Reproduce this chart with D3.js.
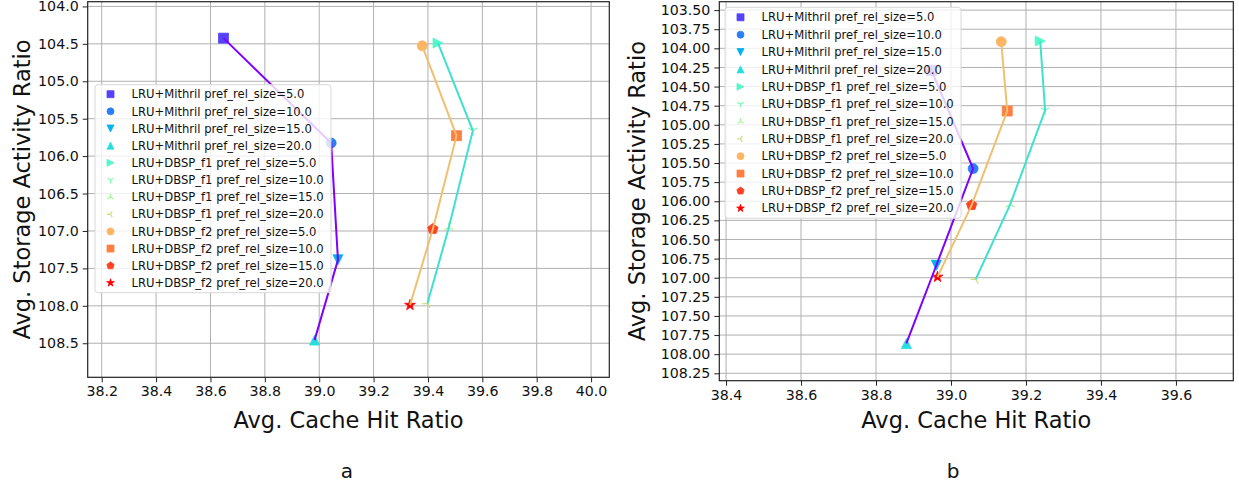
<!DOCTYPE html>
<html>
<head>
<meta charset="utf-8">
<script src="https://cdn.jsdelivr.net/npm/d3@7"></script>
<style>
  body { margin: 0; background: #fff; }
  svg { display: block; font-family: "DejaVu Sans", sans-serif; }
</style>
</head>
<body>
<svg id="chart" width="1239" height="491"></svg>
<script>
const methods = ["LRU+Mithril", "LRU+DBSP_f1", "LRU+DBSP_f2"];
const prefRelSizes = [5.0, 10.0, 15.0, 20.0];
const markerTypes = [
  "square", "circle", "triDown", "triUp",
  "triRight", "tri1", "tri2", "tri3",
  "circle", "square", "pentagon", "star",
];
const lineColors = ["#7f00ff", "#40e0d0", "#efc070"];

// panel a (x = avg cache hit ratio, y = avg storage activity ratio)
const aMithrilHit = [38.648, 39.044, 39.069, 38.983];
const aMithrilSar = [104.424, 105.825, 107.385, 108.458];
const aF1Hit = [39.437, 39.565, 39.477, 39.398];
const aF1Sar = [104.49, 105.66, 106.95, 107.97];
const aF2Hit = [39.379, 39.505, 39.418, 39.334];
const aF2Sar = [104.527, 105.727, 106.973, 107.99];
const aXTicks = [38.2, 38.4, 38.6, 38.8, 39.0, 39.2, 39.4, 39.6, 39.8, 40.0];
const aYTicks = [104.0, 104.5, 105.0, 105.5, 106.0, 106.5, 107.0, 107.5, 108.0, 108.5];

// panel b
const bMithrilHit = [38.948, 39.059, 38.961, 38.881];
const bMithrilSar = [104.29, 105.573, 106.837, 107.86];
const bF1Hit = [39.238, 39.251, 39.158, 39.066];
const bF1Sar = [103.904, 104.81, 106.04, 107.02];
const bF2Hit = [39.134, 39.150, 39.055, 38.964];
const bF2Sar = [103.913, 104.82, 106.05, 106.99];
const bXTicks = [38.4, 38.6, 38.8, 39.0, 39.2, 39.4, 39.6];
const bYTicks = [103.5, 103.75, 104.0, 104.25, 104.5, 104.75, 105.0, 105.25,
  105.5, 105.75, 106.0, 106.25, 106.5, 106.75, 107.0, 107.25, 107.5, 107.75,
  108.0, 108.25];

// matplotlib "rainbow" colormap
function rainbow(t) {
  const c = (v) => Math.round(255 * Math.max(0, Math.min(1, v)));
  return d3.rgb(
    c(Math.abs(2 * t - 0.5)),
    c(Math.sin(Math.PI * t)),
    c(Math.cos((Math.PI * t) / 2))
  ).formatHex();
}
const markerColors = markerTypes.map((d, i) => rainbow((i + 1) / 12));

function polygon(n, r, rot) {
  const pts = d3.range(n).map((i) => {
    const a = rot + (i * 2 * Math.PI) / n;
    return [r * Math.sin(a), -r * Math.cos(a)];
  });
  return "M" + pts.map((p) => p.join(",")).join("L") + "Z";
}
function starPath(r) {
  const pts = d3.range(10).map((i) => {
    const rr = i % 2 ? r * 0.38 : r;
    const a = (i * Math.PI) / 5;
    return [rr * Math.sin(a), -rr * Math.cos(a)];
  });
  return "M" + pts.map((p) => p.join(",")).join("L") + "Z";
}
function triLines(r, rot) {
  return d3.range(3).map((i) => {
    const a = rot + (i * 2 * Math.PI) / 3;
    return `M0,0L${r * Math.sin(a)},${-r * Math.cos(a)}`;
  }).join("");
}
// ms = marker size in px (matplotlib convention)
function markerPath(type, ms) {
  const h = ms / 2;
  switch (type) {
    case "square": return `M${-h},${-h}h${ms}v${ms}h${-ms}Z`;
    case "circle": return `M${-h},0a${h},${h} 0 1,0 ${ms},0a${h},${h} 0 1,0 ${-ms},0Z`;
    case "triUp": return `M0,${-h}L${h},${h}L${-h},${h}Z`;
    case "triDown": return `M0,${h}L${h},${-h}L${-h},${-h}Z`;
    case "triRight": return `M${h},0L${-h},${-h}L${-h},${h}Z`;
    case "pentagon": return polygon(5, h * 1.1, 0);
    case "star": return starPath(h * 1.15);
    case "tri1": return triLines(h, Math.PI);
    case "tri2": return triLines(h, 0);
    case "tri3": return triLines(h, -Math.PI / 2);
  }
}
const lineMarker = (t) => t.startsWith("tri") && t.length === 4;

function drawMarker(sel, type, color, ms) {
  sel.append("path")
    .attr("d", markerPath(type, ms))
    .attr("fill", lineMarker(type) ? "none" : color)
    .attr("stroke", color)
    .attr("stroke-width", lineMarker(type) ? 1.3 : 0.8);
}

const svg = d3.select("#chart");

function drawPanel({ box, xDomain, yDomain, xTicks, yTicks, yFormat, series, legend, yLabelX, caption }) {
  const x = d3.scaleLinear().domain(xDomain).range([box.left, box.right]);
  const y = d3.scaleLinear().domain(yDomain).range([box.top, box.bottom]);
  const g = svg.append("g");

  // grid
  g.append("g").selectAll("line").data(xTicks).join("line")
    .attr("x1", (d) => x(d)).attr("x2", (d) => x(d))
    .attr("y1", box.top).attr("y2", box.bottom)
    .attr("stroke", "#b0b0b0").attr("stroke-width", 1);
  g.append("g").selectAll("line").data(yTicks).join("line")
    .attr("y1", (d) => y(d)).attr("y2", (d) => y(d))
    .attr("x1", box.left).attr("x2", box.right)
    .attr("stroke", "#b0b0b0").attr("stroke-width", 1);

  // axes
  const xAxis = g.append("g")
    .attr("transform", `translate(0,${box.bottom})`)
    .call(d3.axisBottom(x).tickValues(xTicks).tickFormat(d3.format(".1f")).tickSize(5).tickPadding(4));
  const yAxis = g.append("g")
    .attr("transform", `translate(${box.left},0)`)
    .call(d3.axisLeft(y).tickValues(yTicks).tickFormat(d3.format(yFormat)).tickSize(5).tickPadding(4));
  [xAxis, yAxis].forEach((a) => {
    a.select(".domain").remove();
    a.selectAll("text").attr("font-size", 14.2).attr("fill", "#111")
      .attr("font-family", "DejaVu Sans");
    a.selectAll("line").attr("stroke", "#222");
  });

  // scatter markers
  series.forEach((s, si) => {
    s.hit.forEach((hv, i) => {
      const k = si * 4 + i;
      g.append("g")
        .attr("transform", `translate(${x(hv)},${y(s.sar[i])})`)
        .call((m) => drawMarker(m, markerTypes[k], markerColors[k], 10));
    });
  });
  // connecting lines
  series.forEach((s, si) => {
    g.append("path")
      .datum(s.hit.map((hv, i) => [hv, s.sar[i]]))
      .attr("fill", "none")
      .attr("stroke", lineColors[si])
      .attr("stroke-width", 2)
      .attr("d", d3.line().x((d) => x(d[0])).y((d) => y(d[1])));
  });

  // frame
  g.append("rect")
    .attr("x", box.left).attr("y", box.top)
    .attr("width", box.right - box.left).attr("height", box.bottom - box.top)
    .attr("fill", "none").attr("stroke", "#222").attr("stroke-width", 1.2);

  // legend
  const lg = g.append("g");
  lg.append("rect")
    .attr("x", legend.x).attr("y", legend.y)
    .attr("width", 236).attr("height", legend.h)
    .attr("rx", 3)
    .attr("fill", "#fff").attr("fill-opacity", 0.8)
    .attr("stroke", "#d8d8d8").attr("stroke-width", 1);
  const labels = methods.flatMap((m) => prefRelSizes.map((p) => `${m} pref_rel_size=${p.toFixed(1)}`));
  labels.forEach((lab, k) => {
    const cy = legend.y + legend.first + k * legend.step;
    lg.append("g")
      .attr("transform", `translate(${legend.x + 15.5},${cy})`)
      .call((m) => drawMarker(m, markerTypes[k], markerColors[k], 7));
    lg.append("text")
      .attr("x", legend.x + 36.5).attr("y", cy)
      .attr("dy", "0.36em")
      .attr("font-size", 11.6)
      .attr("fill", "#111")
      .text(lab);
  });

  // axis titles
  g.append("text")
    .attr("x", (box.left + box.right) / 2).attr("y", 428)
    .attr("text-anchor", "middle").attr("font-size", 22.5).attr("fill", "#111")
    .text("Avg. Cache Hit Ratio");
  g.append("text")
    .attr("transform", `translate(${yLabelX},${(box.top + box.bottom) / 2}) rotate(-90)`)
    .attr("text-anchor", "middle").attr("font-size", 22.5).attr("fill", "#111")
    .text("Avg. Storage Activity Ratio");
  g.append("text")
    .attr("x", caption.x).attr("y", caption.y)
    .attr("text-anchor", "middle").attr("font-size", 20).attr("fill", "#111")
    .text(caption.text);
}

drawPanel({
  box: { left: 87.7, right: 609.3, top: 1.7, bottom: 377.3 },
  xDomain: [38.1485, 40.067],
  yDomain: [103.937, 108.955],
  xTicks: aXTicks,
  yTicks: aYTicks,
  yFormat: ".1f",
  series: [
    { hit: aMithrilHit, sar: aMithrilSar },
    { hit: aF1Hit, sar: aF1Sar },
    { hit: aF2Hit, sar: aF2Sar },
  ],
  legend: { x: 95, y: 84.7, h: 208, first: 9.5, step: 17.15 },
  yLabelX: 30,
  caption: { x: 347, y: 478, text: "a" },
});

drawPanel({
  box: { left: 719.3, right: 1233.3, top: 1.7, bottom: 380.7 },
  xDomain: [38.382, 39.753],
  yDomain: [103.39, 108.347],
  xTicks: bXTicks,
  yTicks: bYTicks,
  yFormat: ".2f",
  series: [
    { hit: bMithrilHit, sar: bMithrilSar },
    { hit: bF1Hit, sar: bF1Sar },
    { hit: bF2Hit, sar: bF2Sar },
  ],
  legend: { x: 725, y: 7.3, h: 211, first: 10, step: 17.36 },
  yLabelX: 645,
  caption: { x: 953, y: 478, text: "b" },
});
</script>
</body>
</html>
